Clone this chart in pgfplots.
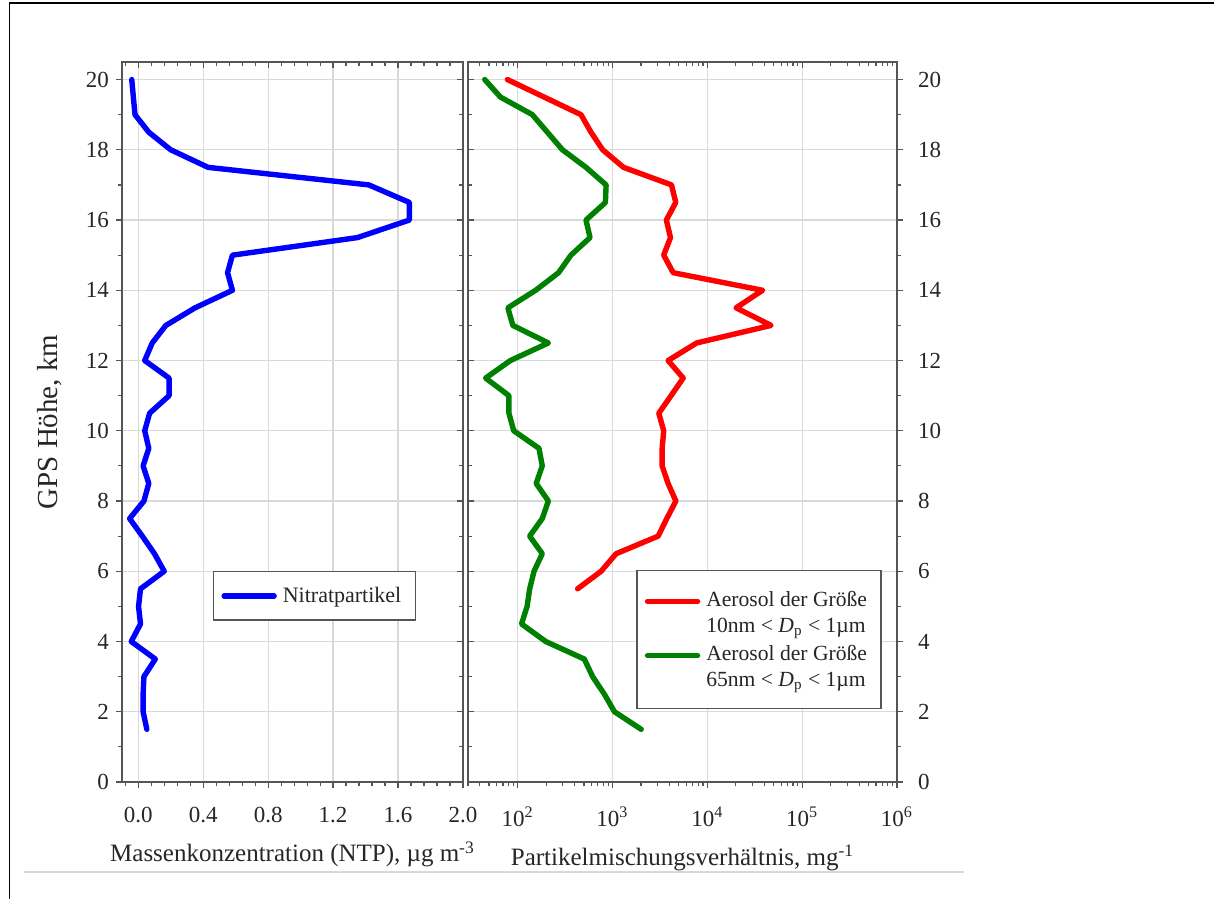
\documentclass[border=0pt]{standalone}
\usepackage{pgfplots}
\pgfplotsset{compat=1.18}
\usepackage{fontspec}
\setmainfont{Liberation Serif}
\definecolor{axgray}{RGB}{85,85,85}
\definecolor{myred}{RGB}{255,0,0}
\definecolor{mygreen}{RGB}{0,128,0}
\definecolor{myblue}{RGB}{0,0,255}

\pgfplotstableread{
x y
-0.04 20
-0.02 19
0.065 18.5
0.20 18
0.43 17.5
1.42 17
1.67 16.5
1.67 16
1.35 15.5
0.58 15
0.55 14.5
0.58 14
0.35 13.5
0.17 13
0.086 12.5
0.04 12
0.19 11.5
0.19 11
0.07 10.5
0.04 10
0.065 9.5
0.03 9
0.065 8.5
0.035 8
-0.053 7.5
0.025 7
0.10 6.5
0.16 6
0.014 5.5
0.002 5
0.014 4.5
-0.043 4
0.105 3.5
0.035 3
0.03 2.5
0.03 2
0.053 1.5
}\nitrat

\pgfplotstableread{
x y
78 20
466 19
594 18.5
789 18
1309 17.5
4190 17
4650 16.5
3700 16
4090 15.5
3470 15
4370 14.5
38300 14
20100 13.5
47000 13
7720 12.5
3860 12
5570 11.5
4150 11
3080 10.5
3470 10
3340 9.5
3340 9
3860 8.5
4660 8
3740 7.5
3030 7
1094 6.5
759 6
429 5.5
}\redtab

\pgfplotstableread{
x y
45 20
66 19.5
143 19
206 18.5
297 18
526 17.5
857 17
843 16.5
526 16
580 15.5
365 15
270 14.5
155 14
79 13.5
89 13
211 12.5
84 12
46 11.5
81 11
81 10.5
91 10
168 9.5
182 9
157 8.5
211 8
182 7.5
134 7
182 6.5
149 6
134 5.5
126 5
110 4.5
198 4
505 3.5
618 3
822 2.5
1050 2
2010 1.5
}\greentab

\pgfplotsset{
  common/.style={
    scale only axis,
    height=360pt,
    ymin=0, ymax=20.5,
    ytick={0,2,...,20},
    minor ytick={1,3,...,19},
    axis line style={axgray, line width=0.8pt},
    every tick/.style={axgray, line width=0.6pt},
    major tick length=3pt,
    minor tick length=2pt,
    tick label style={font=\fontsize{11.5}{13}\selectfont, text=black!85},
    /pgf/number format/assume math mode=true,
    clip=false,
  },
  gridded/.style={
    grid=major,
    major grid style={gray!30, line width=0.6pt},
  },
  every axis plot/.append style={line width=2.7pt, line join=round, line cap=round},
  legend image code/.code={\draw[#1, line width=2.7pt, line cap=round] (0pt,0pt) -- (25pt,0pt);},
}

\begin{document}
\begin{tikzpicture}
\path[use as bounding box] (0,0) rectangle (607pt,449.5pt);
% page frame lines
\draw[black, line width=1.3pt] (4.5pt,448pt) -- (607pt,448pt);
\draw[black, line width=0.6pt] (4.8pt,448pt) -- (4.8pt,0pt);
\draw[gray!30, line width=0.6pt] (12pt,13.5pt) -- (482pt,13.5pt);

% ---------- left panel ----------
\begin{axis}[common, gridded,
  at={(61pt,58.5pt)}, anchor=south west,
  width=170.5pt,
  xmin=-0.1, xmax=2.0,
  xtick={0,0.4,...,2.0},
  minor xtick={-0.08,0.08,0.16,0.24,0.32,0.48,0.56,0.64,0.72,0.88,0.96,1.04,1.12,1.28,1.36,1.44,1.52,1.68,1.76,1.84,1.92},
  xticklabel={\pgfmathprintnumber[fixed,fixed zerofill,precision=1]{\tick}},
  xticklabel style={yshift=-6pt},
  tick align=outside,
  xtick pos=left, ytick pos=left,
  xlabel={Massenkonzentration (NTP), µg m\textsuperscript{-3}},
  xlabel style={font=\fontsize{12.5}{14}\selectfont, text=black!85, yshift=-2.5pt},
  ylabel={GPS Höhe, km},
  ylabel style={font=\fontsize{14.5}{16}\selectfont, text=black!85, yshift=5pt},
  legend style={at={(0.266,0.293)}, anchor=north west, draw=axgray, line width=0.7pt,
    font=\fontsize{11}{13}\selectfont, text=black!85, inner xsep=4pt, inner ysep=5.5pt,
    nodes={inner xsep=3pt}},
  legend cell align=left,
]
\addplot[myblue] table[x=x,y=y] {\nitrat};
\addlegendentry{Nitratpartikel}
\end{axis}
\begin{axis}[common,
  at={(61pt,58.5pt)}, anchor=south west,
  width=170.5pt,
  xmin=-0.1, xmax=2.0,
  xtick={0,0.4,...,2.0},
  minor xtick={-0.08,0.08,0.16,0.24,0.32,0.48,0.56,0.64,0.72,0.88,0.96,1.04,1.12,1.28,1.36,1.44,1.52,1.68,1.76,1.84,1.92},
  xticklabels={}, yticklabels={},
  tick align=inside,
  xtick pos=right, ytick pos=right,
]
\end{axis}

% ---------- right panel ----------
\begin{axis}[common, gridded,
  at={(234pt,58.5pt)}, anchor=south west,
  width=214.5pt,
  xmode=log, log basis x=10,
  xmin=30, xmax=1e6,
  xtick={1e2,1e3,1e4,1e5,1e6},
  xticklabels={10\textsuperscript{2},10\textsuperscript{3},10\textsuperscript{4},10\textsuperscript{5},10\textsuperscript{6}},
  xticklabel style={yshift=-6pt},
  yticklabel style={xshift=4pt},
  minor xtick={30,40,50,60,70,80,90,200,300,400,500,600,700,800,900,2000,3000,4000,5000,6000,7000,8000,9000,20000,30000,40000,50000,60000,70000,80000,90000,200000,300000,400000,500000,600000,700000,800000,900000},
  tick align=outside,
  xtick pos=left, ytick pos=right,
  xlabel={Partikelmischungsverhältnis, mg\textsuperscript{-1}},
  xlabel style={font=\fontsize{12.5}{14}\selectfont, text=black!85, yshift=-2.5pt},
  legend style={at={(0.392,0.295)}, anchor=north west, draw=axgray, line width=0.7pt,
    font=\fontsize{10.8}{13}\selectfont, text=black!85, inner xsep=4pt, inner ysep=8pt,
    nodes={inner xsep=3pt, inner ysep=1pt, text depth=15pt}, row sep=1pt},
  legend cell align=left,
  legend image code/.code={\draw[#1, line width=2.7pt, line cap=round] (0pt,5.5pt) -- (25pt,5.5pt);},
]
\addplot[myred] table[x=x,y=y] {\redtab};
\addlegendentry{\begin{tabular}[t]{@{}l@{}}Aerosol der Größe\\10nm < \textit{D}\textsubscript{p} < 1µm\end{tabular}}
\addplot[mygreen] table[x=x,y=y] {\greentab};
\addlegendentry{\begin{tabular}[t]{@{}l@{}}Aerosol der Größe\\65nm < \textit{D}\textsubscript{p} < 1µm\end{tabular}}
\end{axis}
\begin{axis}[common,
  at={(234pt,58.5pt)}, anchor=south west,
  width=214.5pt,
  xmode=log, log basis x=10,
  xmin=30, xmax=1e6,
  xtick={1e2,1e3,1e4,1e5,1e6},
  minor xtick={30,40,50,60,70,80,90,200,300,400,500,600,700,800,900,2000,3000,4000,5000,6000,7000,8000,9000,20000,30000,40000,50000,60000,70000,80000,90000,200000,300000,400000,500000,600000,700000,800000,900000},
  xticklabels={}, yticklabels={},
  tick align=inside,
  xtick pos=right, ytick pos=left,
]
\end{axis}
\end{tikzpicture}
\end{document}
